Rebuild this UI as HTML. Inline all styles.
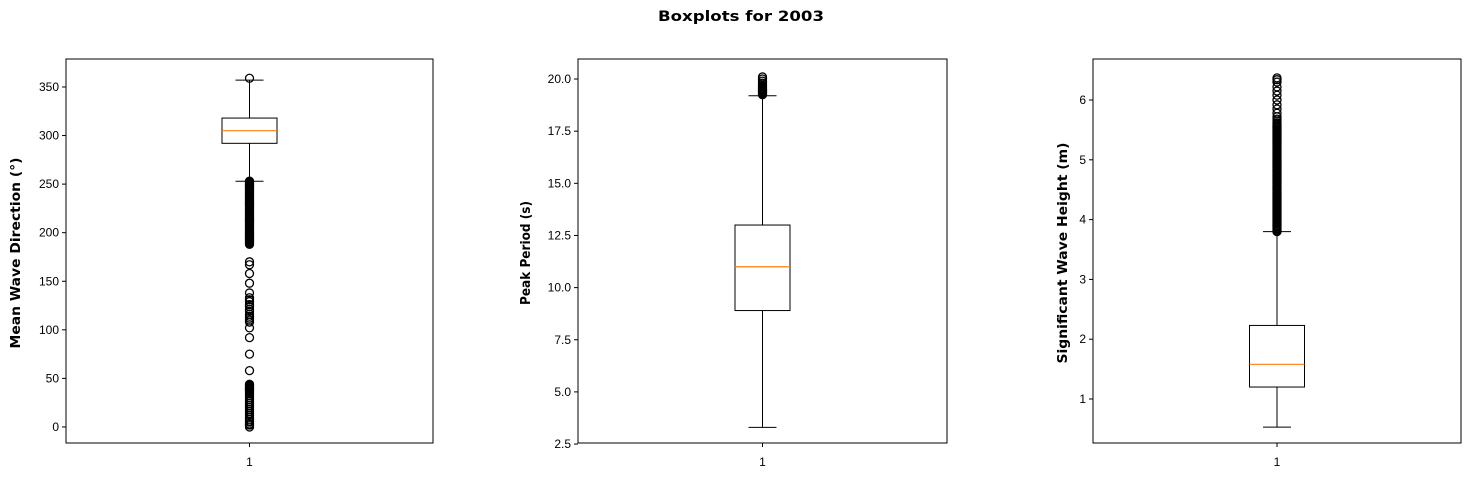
<!DOCTYPE html>
<html><head><meta charset="utf-8"><style>
body{margin:0;background:#fff;font-family:"Liberation Sans",sans-serif}
</style></head><body>
<svg id="c" width="1470" height="478" xmlns="http://www.w3.org/2000/svg">
<text x="741" y="21" text-anchor="middle" font-size="14" font-weight="bold" font-family="DejaVu Sans, sans-serif" textLength="166" lengthAdjust="spacingAndGlyphs">Boxplots for 2003</text>
</svg>
<script>
const panelNames=["mean-wave-direction","peak-period","significant-wave-height"];
const yLabels=["Mean Wave Direction (°)","Peak Period (s)","Significant Wave Height (m)"];
const stats1=[253,292,305,318,357];
const stats2=[3.3,8.9,11.0,13.0,19.2];
const stats3=[0.53,1.2,1.58,2.23,3.8];
const outliers1=[359,253,252,251,250,249,248,247,246,245,244,243,242,241,240,239,238,237,236,235,234,233,232,231,230,229,228,227,226,225,224,223,222,221,220,219,218,217,216,215,214,213,212,211,210,209,208,207,206,205,204,203,202,201,200,199,198,197,196,195,194,193,192,191,190,189,188,170,167,158,148,138,133,131,129,126,124,121,119,116,114,112,110,108,102,92,75,58,44,43,42,41,40,39,38,37,35,34,32,30,28,26,24,22,20,18,16,14,12,10,8,6,5,3,2,0];
const outliers2=[19.25,19.3,19.35,19.4,19.45,19.5,19.55,19.6,19.65,19.7,19.8,19.9,20.0,20.1];
const outliers3=[3.8,3.82,3.84,3.86,3.88,3.9,3.92,3.94,3.96,3.98,4.0,4.02,4.04,4.06,4.08,4.1,4.12,4.14,4.16,4.18,4.2,4.22,4.24,4.26,4.28,4.3,4.32,4.34,4.36,4.38,4.4,4.42,4.44,4.46,4.48,4.5,4.52,4.54,4.56,4.58,4.6,4.62,4.64,4.66,4.68,4.7,4.72,4.74,4.76,4.78,4.8,4.82,4.84,4.86,4.88,4.9,4.92,4.94,4.96,4.98,5.0,5.02,5.04,5.06,5.08,5.1,5.12,5.14,5.16,5.18,5.2,5.22,5.24,5.26,5.28,5.3,5.32,5.34,5.36,5.38,5.4,5.42,5.44,5.46,5.48,5.5,5.52,5.54,5.56,5.58,5.6,5.62,5.65,5.68,5.72,5.78,5.85,5.92,6.0,6.08,6.15,6.22,6.3,6.34,6.37];
const ticks1=[0,50,100,150,200,250,300,350];
const ticks2=[2.5,5.0,7.5,10.0,12.5,15.0,17.5,20.0];
const ticks3=[1,2,3,4,5,6];
const tickLabels2=["2.5","5.0","7.5","10.0","12.5","15.0","17.5","20.0"];
const domains=[[-16.5,378.8],[2.55,20.96],[0.264,6.686]];
const panels=[
 {x0:66,x1:433,s:stats1,o:outliers1,t:ticks1,tl:ticks1.map(String),lx:20,tlen:191},
 {x0:578,x1:947,s:stats2,o:outliers2,t:ticks2,tl:tickLabels2,lx:530,tlen:104},
 {x0:1093,x1:1461,s:stats3,o:outliers3,t:ticks3,tl:ticks3.map(String),lx:1067,tlen:221}];
const svg=document.getElementById('c');const NS="http://www.w3.org/2000/svg";
function mk(tag,a,p){const e=document.createElementNS(NS,tag);for(const k in a)e.setAttribute(k,a[k]);(p||svg).appendChild(e);return e;}
const Y0=59,Y1=443;
panels.forEach((p,i)=>{
 const d=domains[i];
 const y=v=>Y1-(v-d[0])/(d[1]-d[0])*(Y1-Y0);
 const cx=(p.x0+p.x1)/2;
 const g=mk('g',{});
 
 
 const fr=mk('rect',{x:p.x0,y:Y0,width:p.x1-p.x0,height:Y1-Y0,fill:'none',stroke:'#000','stroke-width':1},g);
 
 
 p.t.forEach((v,j)=>{
  const ty=y(v);
  mk('line',{x1:p.x0-4,x2:p.x0,y1:ty,y2:ty,stroke:'#000'},g);
  const tx=mk('text',{x:p.x0-7,y:ty+4,'text-anchor':'end','font-size':12},g);
  tx.textContent=p.tl[j];
  
  
 });
 mk('line',{x1:cx,x2:cx,y1:Y1,y2:Y1+4,stroke:'#000'},g);
 const xl=mk('text',{x:cx,y:Y1+23,'text-anchor':'middle','font-size':12},g);
 xl.textContent='1';
 
 
 const lx=p.lx, ly=(Y0+Y1)/2+2;
 const yt=mk('text',{x:lx,y:ly,'text-anchor':'middle','font-size':13,'font-weight':'bold','font-family':'DejaVu Sans, sans-serif',textLength:p.tlen,lengthAdjust:'spacingAndGlyphs',transform:`rotate(-90 ${lx} ${ly})`},g);
 yt.textContent=yLabels[i];
 
 
 const s=p.s,hw=27.5,cw=14;
 mk('line',{x1:cx,x2:cx,y1:y(s[0]),y2:y(s[1]),stroke:'#000'},g);
 mk('line',{x1:cx,x2:cx,y1:y(s[3]),y2:y(s[4]),stroke:'#000'},g);
 mk('line',{x1:cx-cw,x2:cx+cw,y1:y(s[0]),y2:y(s[0]),stroke:'#000'},g);
 mk('line',{x1:cx-cw,x2:cx+cw,y1:y(s[4]),y2:y(s[4]),stroke:'#000'},g);
 const bx=mk('rect',{x:cx-hw,y:y(s[3]),width:2*hw,height:y(s[1])-y(s[3]),fill:'none',stroke:'#000'},g);
 
 
 const md=mk('line',{x1:cx-hw,x2:cx+hw,y1:y(s[2]),y2:y(s[2]),stroke:'#ff7f0e','stroke-width':1.2},g);
 
 
 p.o.forEach(v=>{
  const c=mk('circle',{cx:cx,cy:y(v),r:4,fill:'none',stroke:'#000','stroke-width':1.3},g);
  
  
 });
});
</script>
</body></html>
